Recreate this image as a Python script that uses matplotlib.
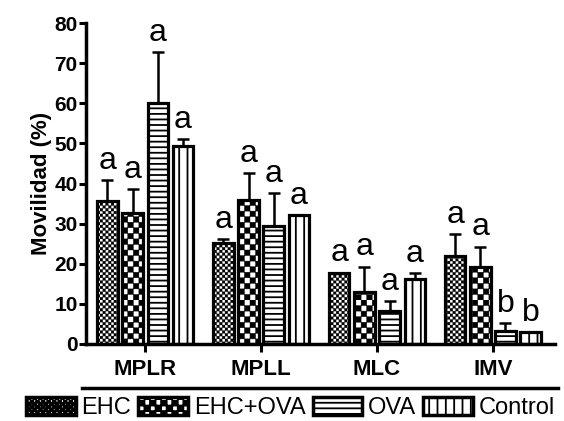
import numpy as np
import matplotlib as mpl
mpl.use("Agg")
import matplotlib.pyplot as plt
from matplotlib.lines import Line2D
from matplotlib.path import Path
from matplotlib import hatch as mhatch

plt.rcParams['font.family'] = ['Liberation Sans', 'DejaVu Sans']

categories = ['MPLR', 'MPLL', 'MLC', 'IMV']
groups = ['EHC', 'EHC+OVA', 'OVA', 'Control']

means = {
    'EHC':     [35.7, 25.3, 17.8, 21.9],
    'EHC+OVA': [32.7, 35.9, 13.0, 19.1],
    'OVA':     [60.2, 29.3, 8.3, 3.2],
    'Control': [49.4, 32.2, 16.3, 2.9],
}
errors = {
    'EHC':     [5.2, 0.8, 0.0, 5.5],
    'EHC+OVA': [5.9, 6.7, 6.3, 5.2],
    'OVA':     [12.7, 8.4, 2.4, 2.0],
    'Control': [1.7, 0.0, 1.3, 0.0],
}
letters = {
    'EHC':     ['a', 'a', 'a', 'a'],
    'EHC+OVA': ['a', 'a', 'a', 'a'],
    'OVA':     ['a', 'a', 'a', 'b'],
    'Control': ['a', 'a', 'a', 'b'],
}


# checkerboard hatch ('c'), filled squares
class Checker(mhatch.HatchPatternBase):
    def __init__(self, hatch, density):
        n = int(hatch.count('c') * density)
        self.n = n
        self.cells = [(i, j) for i in range(n) for j in range(n) if (i + j) % 2 == 0]
        self.num_vertices = len(self.cells) * 5 if n else 0

    def set_vertices_and_codes(self, vertices, codes):
        s = 1.0 / self.n
        k = 0
        for i, j in self.cells:
            x0, y0 = i * s, j * s
            vertices[k:k + 5] = [(x0, y0), (x0 + s, y0), (x0 + s, y0 + s),
                                 (x0, y0 + s), (x0, y0)]
            codes[k:k + 5] = [Path.MOVETO, Path.LINETO, Path.LINETO,
                              Path.LINETO, Path.CLOSEPOLY]
            k += 5

    get_vertices_and_codes = set_vertices_and_codes


mhatch._hatch_types.append(Checker)
if hasattr(mhatch, '_validate_hatch_pattern'):
    mhatch._validate_hatch_pattern = lambda h: None

# face, hatch colour, hatch pattern, hatch linewidth
styles = {
    'EHC':     ('white', 'black', 'cccccc', 0.15),
    'EHC+OVA': ('white', 'black', 'ccc', 0.3),
    'OVA':     ('white', 'black', '---', 1.3),
    'Control': ('white', 'black', '||', 1.3),
}

plt.rcParams['hatch.linewidth'] = 1.3

fig = plt.figure(figsize=(5.64, 4.21), dpi=100)
ax = fig.add_axes([0.1525, 0.183, 0.8315, 0.762])

x = np.arange(len(categories))
width = 0.175
offsets = [-0.325, -0.108, 0.108, 0.325]

for g, off in zip(groups, offsets):
    face, hcol, hatch, hlw = styles[g]
    bars = ax.bar(x + off, means[g], width, color=face, edgecolor=hcol,
                  hatch=hatch, linewidth=0, zorder=2)
    for b in bars:
        if hasattr(b, 'set_hatch_linewidth'):
            b.set_hatch_linewidth(hlw)
    ax.bar(x + off, means[g], width, fill=False, edgecolor='black',
           linewidth=2.3, zorder=3)
    err = np.array(errors[g])
    ax.errorbar(x + off, means[g], yerr=[np.zeros_like(err), err], fmt='none',
                ecolor='black', elinewidth=1.8, capsize=4, capthick=1.8, zorder=1)
    for xi, m, e, lt in zip(x + off, means[g], err, letters[g]):
        ax.annotate(lt, (xi, m + e), xytext=(0, 8), textcoords='offset points',
                    ha='center', va='baseline', fontsize=23)

ax.set_xlim(-0.51, 3.535)
ax.set_ylim(0, 80)
ax.set_yticks(np.arange(0, 81, 10))
ax.set_xticks(x)
ax.set_xticklabels(categories, fontsize=16, fontweight='bold')
for lab in ax.get_yticklabels():
    lab.set_fontweight('bold')
    lab.set_fontsize(15)
ax.tick_params(axis='y', width=2.2, length=5, pad=1)
ax.tick_params(axis='x', width=2.2, length=6, pad=5)
ax.spines['top'].set_visible(False)
ax.spines['right'].set_visible(False)
ax.spines['left'].set_linewidth(2.5)
ax.spines['bottom'].set_linewidth(2.5)
ax.set_ylabel('Movilidad (%)', fontsize=16, fontweight='bold', labelpad=2)

fig.add_artist(Line2D([82 / 564, 558 / 564], [1 - 388 / 421] * 2,
                      color='black', linewidth=2.5, transform=fig.transFigure))

handles = []
for g in groups:
    face, hcol, hatch, hlw = styles[g]
    fill = mpl.patches.Patch(facecolor=face, edgecolor=hcol, hatch=hatch,
                             linewidth=0)
    if hasattr(fill, 'set_hatch_linewidth'):
        fill.set_hatch_linewidth(hlw)
    border = mpl.patches.Patch(fill=False, edgecolor='black', linewidth=2.5)
    handles.append((fill, border))
leg = fig.legend(handles, groups, loc='center', bbox_to_anchor=(0.515, 0.031),
                 ncol=4, frameon=False, fontsize=17, handlelength=2.1,
                 handleheight=0.8, handletextpad=0.25, columnspacing=0.3,
                 borderpad=0, borderaxespad=0)

plt.savefig('out.png', dpi=100)
